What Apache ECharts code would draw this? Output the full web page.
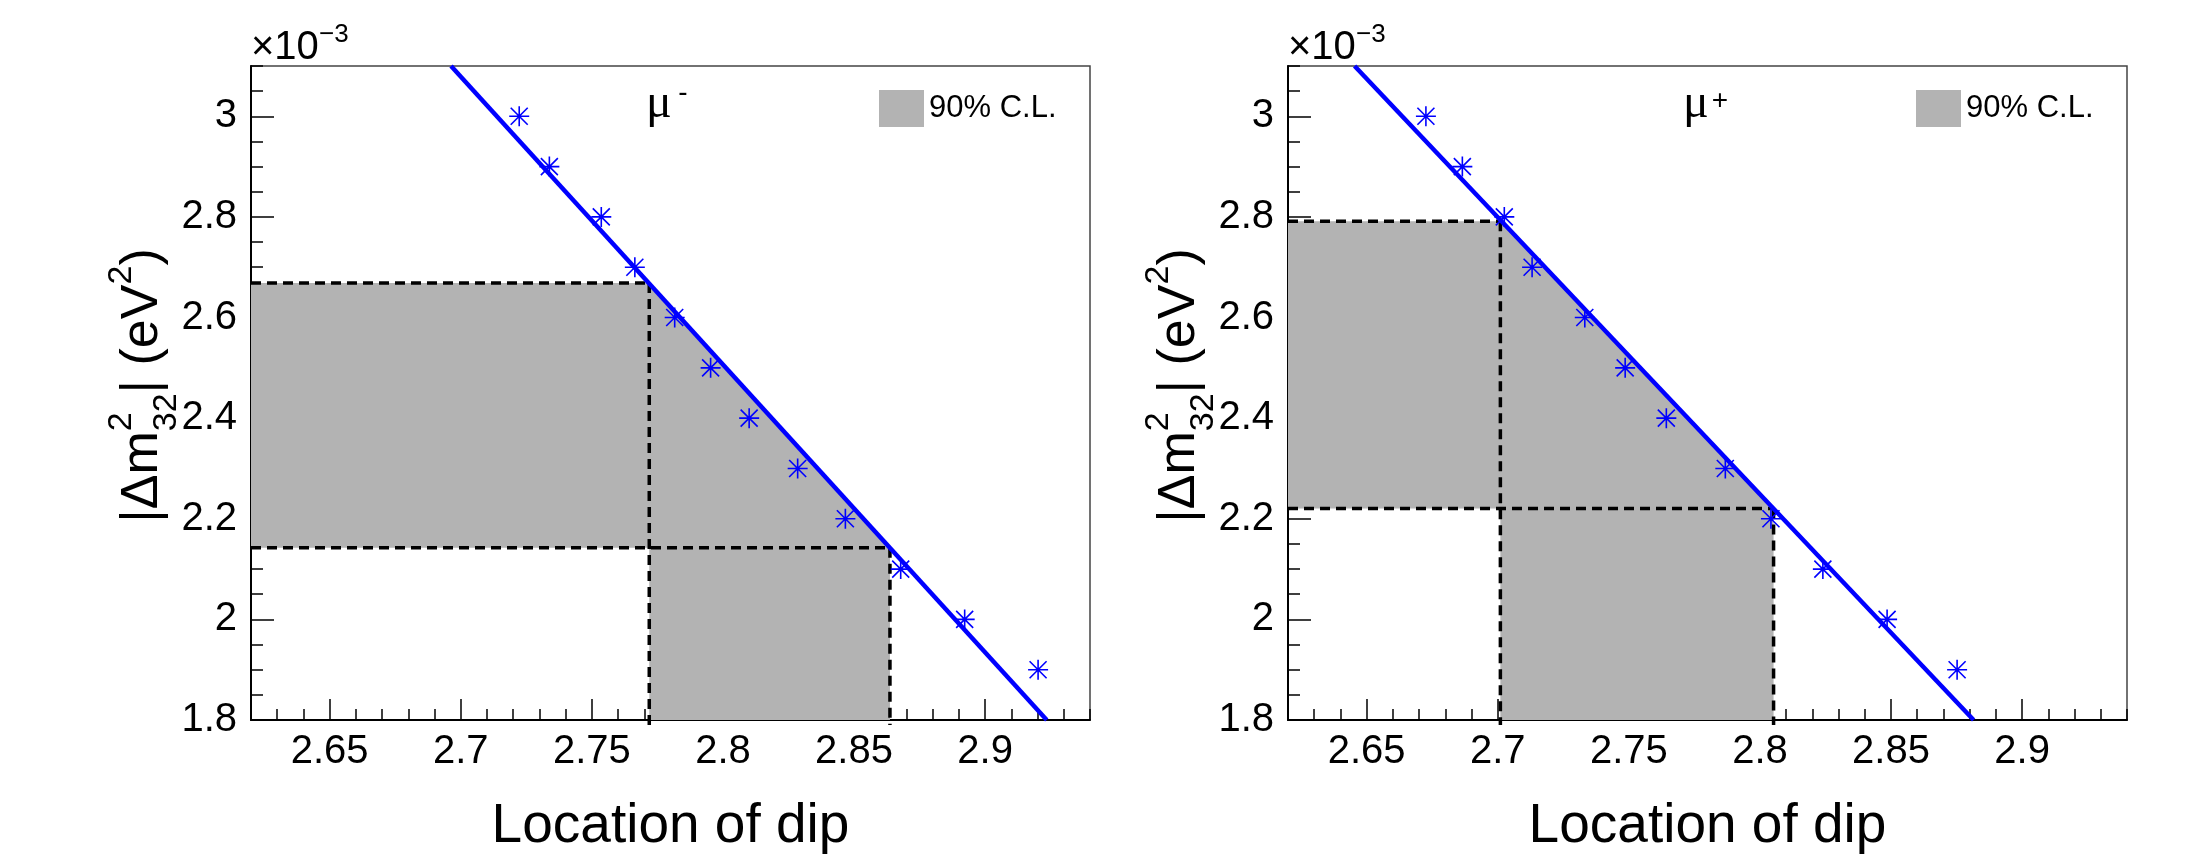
<!DOCTYPE html>
<html>
<head>
<meta charset="utf-8">
<title>Location of dip vs |Δm²32|</title>
<script src="https://cdn.jsdelivr.net/npm/echarts@6/dist/echarts.min.js"></script>
<style>
  html, body { margin: 0; padding: 0; background: #ffffff; }
  #chart { width: 2212px; height: 867px; }
</style>
</head>
<body>
<div id="chart"></div>
<script>
// Axis ranges and tick labels (|Δm²32| in units of 1e-3 eV²)
const X_RANGE = [2.62, 2.94];
const Y_RANGE = [1.8, 3.1];
const xMajorTicks = [2.65, 2.7, 2.75, 2.8, 2.85, 2.9];
const yMajorTicks = [1.8, 2, 2.2, 2.4, 2.6, 2.8, 3];

// Simulated |Δm²32| values and the fitted location of the dip for each sample
const dm2Values = [3.0, 2.9, 2.8, 2.7, 2.6, 2.5, 2.4, 2.3, 2.2, 2.1, 2.0, 1.9];
const dipMuMinus = [2.7223, 2.7338, 2.7536, 2.7664, 2.7816, 2.7953, 2.8100, 2.8285, 2.8467, 2.8678, 2.8922, 2.9202];
const dipMuPlus  = [2.6726, 2.6865, 2.7025, 2.7131, 2.7332, 2.7486, 2.7643, 2.7868, 2.8042, 2.8240, 2.8485, 2.8752];

// Straight-line calibration fits: [dip, |Δm²|] where the line meets the frame
const fitMuMinus = [[2.6963, 3.1], [2.9235, 1.8]];
const fitMuPlus  = [[2.6454, 3.1], [2.8815, 1.8]];

// 90% C.L. intervals on the dip location and the matching |Δm²32| range
const clDipMuMinus = [2.7719, 2.8637];
const clDm2MuMinus = [2.1423, 2.6689];
const clDipMuPlus  = [2.7010, 2.8052];
const clDm2MuPlus  = [2.2206, 2.7914];

const FONT = 'Liberation Sans';
const SERIF = 'Liberation Serif';
const STAR = 'path://M0,-10L0,10M-10,0L10,0M-8.5,-8.5L8.5,8.5M-8.5,8.5L8.5,-8.5';

const PLOT_TOP = 66, PLOT_W = 839, PLOT_H = 654;

const panels = [
  { left: 251,  dip: dipMuMinus, fit: fitMuMinus, clDip: clDipMuMinus, clDm2: clDm2MuMinus, charge: '-' },
  { left: 1288, dip: dipMuPlus,  fit: fitMuPlus,  clDip: clDipMuPlus,  clDm2: clDm2MuPlus,  charge: '+' }
];

function txt(x, y, text, size, opts) {
  opts = opts || {};
  const align = opts.align || 'left';
  return {
    type: 'text', x: x, y: y, silent: true,
    style: {
      text: text,
      fontSize: size,
      fontFamily: opts.family || FONT,
      fill: '#000000',
      align: align, textAlign: align,
      verticalAlign: 'middle', textVerticalAlign: 'middle'
    }
  };
}

// |Δm²32| (eV²) written bottom-to-top along the y axis
function yTitle(gx, gy) {
  const F = 52, S = 34, up = -21.8, down = 23.2;
  return {
    type: 'group', x: gx, y: gy, rotation: Math.PI / 2, silent: true,
    children: [
      txt(0, 0, '|\u0394m', F),
      txt(91.6, up, '2', S),
      txt(91.6, down, '32', S),
      txt(129.4, 0, '| (eV', F),
      txt(238.3, up, '2', S),
      txt(257.2, 0, ')', F)
    ]
  };
}

function clRenderer(params, api) {
  const dipLo = api.value(0), dipHi = api.value(1);
  const dmLo = api.value(2), dmHi = api.value(3);
  const x0 = X_RANGE[0], y0 = Y_RANGE[0];
  const poly = [[x0, dmHi], [dipLo, dmHi], [dipHi, dmLo], [dipHi, y0],
                [dipLo, y0], [dipLo, dmLo], [x0, dmLo]].map(p => api.coord(p));
  const dash = { stroke: '#000000', lineWidth: 3.5, lineDash: [10, 6], fill: null };
  const seg = (a, b, extra) => {
    const A = api.coord(a), B = api.coord(b);
    return { type: 'line', shape: { x1: A[0], y1: A[1], x2: B[0], y2: B[1] + (extra || 0) }, style: dash };
  };
  return {
    type: 'group',
    children: [
      { type: 'polygon', shape: { points: poly }, style: { fill: api.visual('color'), stroke: null } },
      seg([x0, dmHi], [dipLo, dmHi]),
      seg([dipLo, dmHi], [dipLo, y0], 5),
      seg([x0, dmLo], [dipHi, dmLo]),
      seg([dipHi, dmLo], [dipHi, y0], 5)
    ]
  };
}

const grids = [], xAxes = [], yAxes = [], series = [], legends = [], graphics = [];
const tickLine = { color: '#000000', width: 1.5 };

panels.forEach((p, i) => {
  grids.push({
    left: p.left, top: PLOT_TOP, width: PLOT_W, height: PLOT_H,
    show: true, borderColor: '#444444', borderWidth: 1.5, backgroundColor: 'transparent',
    containLabel: false, outerBoundsMode: 'none'
  });

  // minor ticks every 0.01 on x
  xAxes.push({
    type: 'value', gridIndex: i, min: X_RANGE[0], max: X_RANGE[1], interval: 0.01, position: 'bottom',
    axisLine: { show: true, onZero: false, lineStyle: { color: '#000000', width: 2 } },
    axisTick: { show: true, inside: true, length: 11, lineStyle: tickLine },
    axisLabel: { show: false }, splitLine: { show: false }
  });
  // labelled major ticks on x
  xAxes.push({
    type: 'value', gridIndex: i, min: X_RANGE[0], max: X_RANGE[1], position: 'bottom',
    axisLine: { show: false, onZero: false },
    axisTick: { show: true, inside: true, length: 21, customValues: xMajorTicks, lineStyle: tickLine },
    axisLabel: {
      show: true, customValues: xMajorTicks, margin: 12, fontSize: 40, fontFamily: FONT, color: '#000000',
      formatter: v => String(+(+v).toFixed(2))
    },
    splitLine: { show: false }
  });
  // minor ticks every 0.05 on y
  yAxes.push({
    type: 'value', gridIndex: i, min: Y_RANGE[0], max: Y_RANGE[1], interval: 0.05, position: 'left',
    axisLine: { show: true, onZero: false, lineStyle: { color: '#000000', width: 2 } },
    axisTick: { show: true, inside: true, length: 12, lineStyle: tickLine },
    axisLabel: { show: false }, splitLine: { show: false }
  });
  // labelled major ticks on y
  yAxes.push({
    type: 'value', gridIndex: i, min: Y_RANGE[0], max: Y_RANGE[1], position: 'left',
    axisLine: { show: false, onZero: false },
    axisTick: { show: true, inside: true, length: 23, customValues: yMajorTicks, lineStyle: tickLine },
    axisLabel: {
      show: true, customValues: yMajorTicks, margin: 14, fontSize: 40, fontFamily: FONT, color: '#000000',
      formatter: v => String(+(+v).toFixed(1))
    },
    splitLine: { show: false }
  });

  series.push({
    type: 'custom', name: '90% C.L.', xAxisIndex: 2 * i, yAxisIndex: 2 * i, clip: false, z: 2,
    itemStyle: { color: '#b3b3b3' },
    data: [[p.clDip[0], p.clDip[1], p.clDm2[0], p.clDm2[1]]],
    encode: { x: [0, 1], y: [2, 3] },
    renderItem: clRenderer
  });
  series.push({
    type: 'line', name: 'fit ' + p.charge, xAxisIndex: 2 * i, yAxisIndex: 2 * i, z: 3,
    data: p.fit, symbol: 'none', showSymbol: false, silent: true,
    lineStyle: { color: '#0000ff', width: 4.5 }
  });
  series.push({
    type: 'scatter', name: 'dip ' + p.charge, xAxisIndex: 2 * i, yAxisIndex: 2 * i, z: 4,
    data: p.dip.map((d, k) => [d, dm2Values[k]]),
    symbol: STAR, symbolSize: 20,
    itemStyle: { color: '#0000ff', borderColor: '#0000ff', borderWidth: 1.6, opacity: 1 }
  });

  legends.push({
    data: [{ name: '90% C.L.', icon: 'rect' }],
    left: p.left + 628, top: 90, padding: 0, itemWidth: 45, itemHeight: 37,
    selectedMode: false,
    textStyle: { fontSize: 31, fontFamily: FONT, color: '#000000' }
  });

  const cx = p.left + PLOT_W / 2;
  graphics.push(txt(cx, 826.9, 'Location of dip', 55, { align: 'center' }));
  graphics.push(yTitle(p.left - 108, 522.8));
  graphics.push(txt(p.left, 48, '\u00d710', 40));
  graphics.push(txt(p.left + 68, 35, '\u22123', 26));
  graphics.push(txt(p.left + 395, 104, '\u03bc', 48, { family: SERIF }));
  graphics.push(txt(p.left + 432, p.charge === '-' ? 92.8 : 101, p.charge, 28, { align: 'center' }));
});

const chart = echarts.init(document.getElementById('chart'));
chart.setOption({
  animation: false,
  backgroundColor: '#ffffff',
  textStyle: { fontFamily: FONT },
  grid: grids,
  xAxis: xAxes,
  yAxis: yAxes,
  legend: legends,
  series: series,
  graphic: { elements: graphics }
});
</script>
</body>
</html>
